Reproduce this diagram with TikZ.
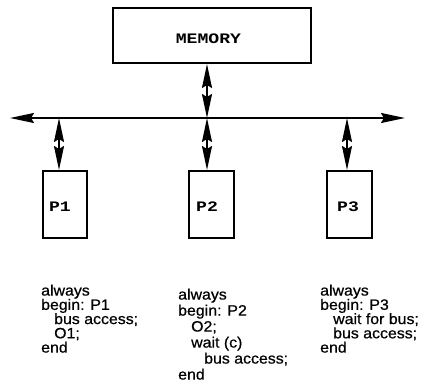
\documentclass[tikz,border=0pt]{standalone}
\usepackage{fontspec}
\setmainfont{Liberation Sans}
\newfontfamily\codefont[FakeStretch=1.06,FakeBold=0.6]{Liberation Sans}
\newfontfamily\labelfont[FakeStretch=1.25]{Liberation Mono}
\usetikzlibrary{arrows.meta}
\tikzset{
  unitbox/.style={draw, line width=2pt, inner sep=0pt},
  boxlabel/.style={font=\labelfont\bfseries\fontsize{14.5}{14.5}\selectfont, inner sep=0pt},
  conn/.style={line width=2pt, {Stealth[length=24pt,width=10pt,inset=3pt]}-{Stealth[length=24pt,width=10pt,inset=3pt]}},
  code/.style={anchor=north west, align=left, inner sep=0pt, font=\codefont\fontsize{15}{#1}\selectfont},
}
\newcommand{\ind}{\hspace*{13pt}}
\begin{document}
\begin{tikzpicture}[x=1pt,y=-1pt]
\useasboundingbox (0,0) rectangle (423,383);

% shared memory
\node[unitbox, minimum width=198pt, minimum height=55pt] (mem) at (212,35.5) {};
\node[boxlabel] (memlabel) at (208.5,38.5) {MEMORY};

% processors
\node[unitbox, minimum width=44pt, minimum height=67pt] (p1) at (65,204.5) {};
\node[unitbox, minimum width=45pt, minimum height=67pt] (p2) at (211.5,204.5) {};
\node[unitbox, minimum width=45pt, minimum height=67pt] (p3) at (349.5,204.5) {};
\node[boxlabel] (p1label) at (60,207) {P1};
\node[boxlabel] (p2label) at (207,207) {P2};
\node[boxlabel] (p3label) at (348,207) {P3};

% bus and its taps
\coordinate (busL) at (10,118);
\coordinate (busR) at (405,118);
\coordinate (j1) at (59,118);
\coordinate (j2) at (207,118);
\coordinate (j3) at (347,118);
\draw[conn] (busL) -- (busR);
\draw[conn] (j2 |- mem.south) -- (j2);
\draw[conn] (j1) -- (j1 |- p1.north);
\draw[conn] (j2) -- (j2 |- p2.north);
\draw[conn] (j3) -- (j3 |- p3.north);

% processor programs
\node[code=14.25pt] (prog1) at (41,284.5) {always\\begin: P1\\\ind bus access;\\\ind O1;\\end};
\node[code=16pt] (prog2) at (178,288.5) {always\\begin: P2\\\ind O2;\\\ind wait (c)\\\ind\ind bus access;\\end};
\node[code=14.25pt] (prog3) at (320,284.5) {always\\begin: P3\\\ind wait for bus;\\\ind bus access;\\end};
\end{tikzpicture}
\end{document}
